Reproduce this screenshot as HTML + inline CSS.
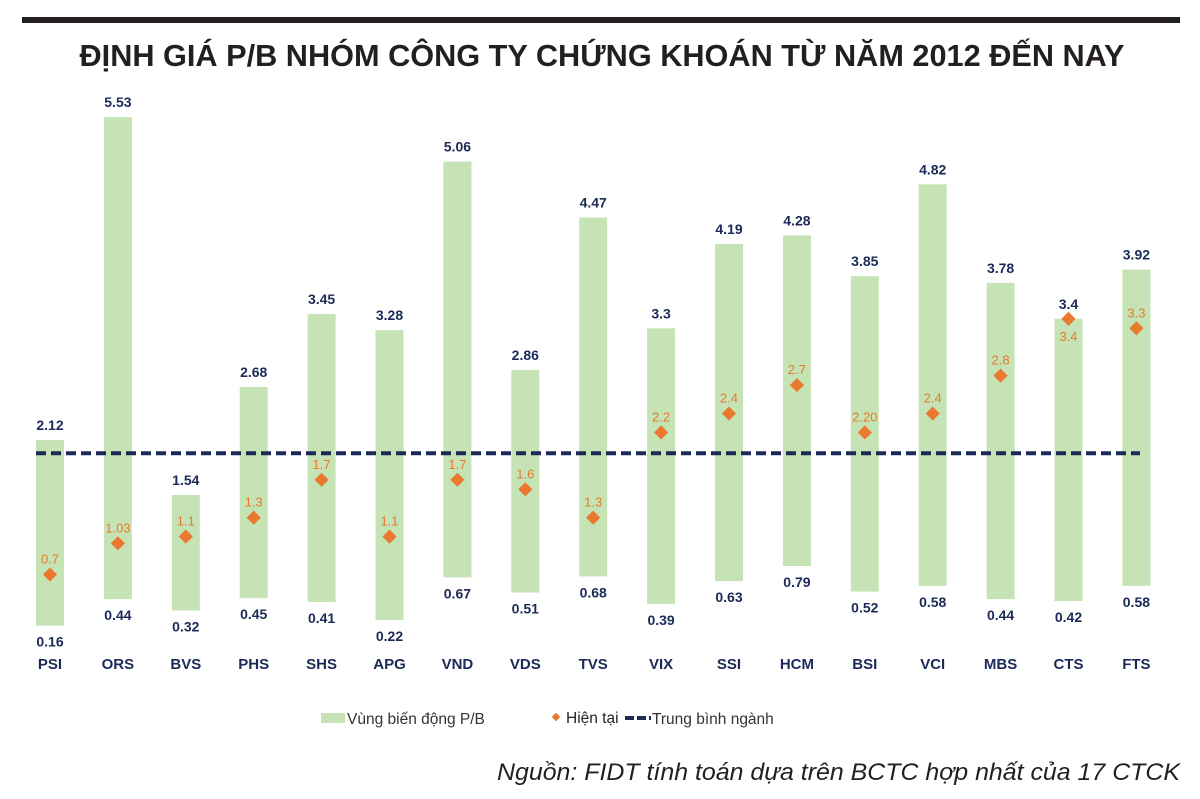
<!DOCTYPE html>
<html><head><meta charset="utf-8"><style>
html,body{margin:0;padding:0;background:#fff;}
svg{display:block;font-family:"Liberation Sans",sans-serif;}
</style></head><body>
<svg id="chart" width="1200" height="799" viewBox="0 0 1200 799" xmlns="http://www.w3.org/2000/svg">
<rect x="22" y="17" width="1158" height="6" fill="#231f20"/>
<text x="602" y="66" text-anchor="middle" font-size="31" font-weight="bold" fill="#231f20" textLength="1045" lengthAdjust="spacingAndGlyphs">ĐỊNH GIÁ P/B NHÓM CÔNG TY CHỨNG KHOÁN TỪ NĂM 2012 ĐẾN NAY</text>
<g id="plot"></g>
<g>
<g><rect x="321" y="713" width="24" height="10" fill="#c5e3b5"/><text x="347" y="724" font-size="15.5" fill="#333">Vùng biến động P/B</text></g>
<g><rect x="553" y="714" width="6" height="6" fill="#e8792e" transform="rotate(45 556 717)"/><text x="566" y="723" font-size="15.5" fill="#222">Hiện tại</text></g>
<g><line x1="625" y1="718" x2="651" y2="718" stroke="#1b2a57" stroke-width="4" stroke-dasharray="9 3"/><text x="652" y="724" font-size="15.5" fill="#333">Trung bình ngành</text></g>
</g>
<text x="1180" y="780" text-anchor="end" font-size="24" font-style="italic" fill="#231f20" textLength="683" lengthAdjust="spacingAndGlyphs">Nguồn: FIDT tính toán dựa trên BCTC hợp nhất của 17 CTCK</text>
</svg>
<script>
const categories=["PSI","ORS","BVS","PHS","SHS","APG","VND","VDS","TVS","VIX","SSI","HCM","BSI","VCI","MBS","CTS","FTS"];
const maxValues=[2.12,5.53,1.54,2.68,3.45,3.28,5.06,2.86,4.47,3.3,4.19,4.28,3.85,4.82,3.78,3.4,3.92];
const minValues=[0.16,0.44,0.32,0.45,0.41,0.22,0.67,0.51,0.68,0.39,0.63,0.79,0.52,0.58,0.44,0.42,0.58];
const currentValues=[0.7,1.03,1.1,1.3,1.7,1.1,1.7,1.6,1.3,2.2,2.4,2.7,2.2,2.4,2.8,3.4,3.3];
const currentLabels=["0.7","1.03","1.1","1.3","1.7","1.1","1.7","1.6","1.3","2.2","2.4","2.7","2.20","2.4","2.8","3.4","3.3"];
const maxLabels=["2.12","5.53","1.54","2.68","3.45","3.28","5.06","2.86","4.47","3.3","4.19","4.28","3.85","4.82","3.78","3.4","3.92"];
const industryAverage=1.98;
const NS="http://www.w3.org/2000/svg";
const g=document.getElementById('plot');
const y=v=>640.8-v*94.7;
const x=i=>50+i*67.9;
const bw=28;
function mk(t,a){const e=document.createElementNS(NS,t);for(const k in a)e.setAttribute(k,a[k]);g.appendChild(e);return e;}
categories.forEach((c,i)=>{
  const cx=x(i);
  const b=mk('rect',{x:cx-bw/2,y:y(maxValues[i]),width:bw,height:y(minValues[i])-y(maxValues[i]),fill:'#c5e3b5'});
  
  
  const t1=mk('text',{x:cx,y:y(maxValues[i])-10,'text-anchor':'middle','font-size':14,'font-weight':'bold',fill:'#1b2a57'});
  t1.textContent=maxLabels[i];
  
  
  const t2=mk('text',{x:cx,y:y(minValues[i])+21,'text-anchor':'middle','font-size':14,'font-weight':'bold',fill:'#1b2a57'});
  t2.textContent=minValues[i].toFixed(2);
  
  
  const t3=mk('text',{x:cx,y:669,'text-anchor':'middle','font-size':15,'font-weight':'bold',fill:'#1b2a57'});
  t3.textContent=c;
  
  
});
const avg=mk('line',{x1:36,x2:1140,y1:y(industryAverage),y2:y(industryAverage),stroke:'#1b2a57','stroke-width':4,'stroke-dasharray':'10 5'});


categories.forEach((c,i)=>{
  const cx=x(i),cy=y(currentValues[i]);
  const d=mk('rect',{x:cx-5,y:cy-5,width:10,height:10,fill:'#e8792e',transform:`rotate(45 ${cx} ${cy})`});
  
  
  const below=c==='CTS';
  const t=mk('text',{x:cx,y:below?cy+22:cy-11,'text-anchor':'middle','font-size':13,fill:'#e8792e'});
  t.textContent=currentLabels[i];
  
  
});
</script>
</body></html>
